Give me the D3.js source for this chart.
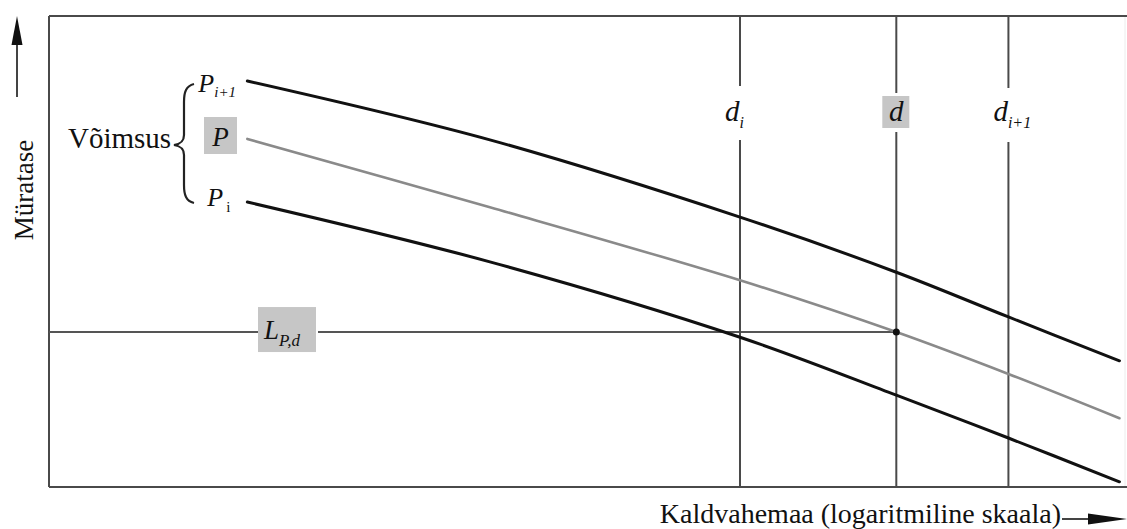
<!DOCTYPE html>
<html>
<head>
<meta charset="utf-8">
<script src="https://cdn.jsdelivr.net/npm/d3@7"></script>
<style>
  html, body { margin: 0; padding: 0; background: #fff; }
  svg { display: block; }
</style>
</head>
<body>
<svg id="chart" width="1127" height="529"></svg>
<script>
// Log-distance positions (relative units) where each level curve is sampled
const distance = [18.4, 40.9, 64.1, 78.6, 89.0, 99.3];
// Noise level (relative units) for the three power settings
const levelPiPlus1 = [86.2, 73.7, 57.3, 45.6, 36.1, 26.8];
const levelP       = [73.9, 59.4, 43.9, 32.9, 24.0, 14.6];
const levelPi      = [60.5, 47.8, 31.8, 19.5, 10.4, 1.1];

// Reference distances drawn as vertical lines
const distNames = ["d", "d", "d"];
const distSubs = ["i", "", "i+1"];
const distValues = [64.1, 78.6, 89.0];
const distHighlight = [false, true, false];

// Interpolated noise level at distance d
const levelAtD = 32.9;

const FONT = "'Liberation Serif', 'Times New Roman', 'DejaVu Serif', serif";

const svg = d3.select("#chart")
  .attr("font-family", FONT)
  .style("font-family", FONT);
const plot = { left: 49, right: 1127, top: 16, bottom: 487 };

const x = d3.scaleLinear().domain([0, 100]).range([plot.left, plot.right]);
const y = d3.scaleLinear().domain([0, 100]).range([plot.bottom, plot.top]);

const frameColor = "#4a4a4a";
const ink = "#111";

function txt(sel) {
  return sel.append("text").attr("font-family", FONT).attr("fill", ink);
}

// Frame: left, top and bottom edges (right edge barely visible)
svg.append("line").attr("x1", plot.right - 2).attr("x2", plot.right - 2)
  .attr("y1", plot.top).attr("y2", plot.bottom)
  .attr("stroke", "#ececec").attr("stroke-width", 1);
svg.append("line").attr("x1", x(0)).attr("x2", x(0))
  .attr("y1", y(100)).attr("y2", y(0))
  .attr("stroke", frameColor).attr("stroke-width", 2);
svg.append("line").attr("x1", x(0)).attr("x2", x(100))
  .attr("y1", y(100)).attr("y2", y(100))
  .attr("stroke", frameColor).attr("stroke-width", 2);
svg.append("line").attr("x1", x(0)).attr("x2", x(100))
  .attr("y1", y(0)).attr("y2", y(0))
  .attr("stroke", frameColor).attr("stroke-width", 2);

// Horizontal line at the interpolated level, with its label box
const hy = y(levelAtD);
const lBox = { x0: 258, x1: 316, y0: hy - 25, y1: hy + 20 };
svg.append("line").attr("x1", x(0)).attr("x2", lBox.x0)
  .attr("y1", hy).attr("y2", hy).attr("stroke", "#555").attr("stroke-width", 2);
svg.append("line").attr("x1", lBox.x1 + 2).attr("x2", x(distValues[1]))
  .attr("y1", hy).attr("y2", hy).attr("stroke", "#555").attr("stroke-width", 2);
svg.append("rect").attr("x", lBox.x0).attr("y", lBox.y0)
  .attr("width", lBox.x1 - lBox.x0).attr("height", lBox.y1 - lBox.y0)
  .attr("fill", "#c6c6c6");
const lt = txt(svg).attr("x", 264).attr("y", hy + 7)
  .attr("font-size", 27).attr("font-style", "italic");
lt.append("tspan").text("L");
lt.append("tspan").attr("dy", 7).attr("font-size", 17).text("P,d");

// Vertical distance lines with labels in gaps
const gaps = [[86, 140], [93, 132], [88, 142]];
distValues.forEach((dv, i) => {
  const xx = x(dv);
  svg.append("line").attr("x1", xx).attr("x2", xx)
    .attr("y1", y(100)).attr("y2", gaps[i][0])
    .attr("stroke", frameColor).attr("stroke-width", 2);
  svg.append("line").attr("x1", xx).attr("x2", xx)
    .attr("y1", gaps[i][1]).attr("y2", y(0))
    .attr("stroke", frameColor).attr("stroke-width", 2);
  if (distHighlight[i]) {
    svg.append("rect").attr("x", xx - 14).attr("y", 96)
      .attr("width", 27).attr("height", 32).attr("fill", "#c6c6c6");
  }
  const t = txt(svg).attr("y", 121).attr("font-size", 29)
    .attr("font-style", "italic");
  if (distSubs[i] === "") {
    t.attr("x", xx).attr("text-anchor", "middle").text(distNames[i]);
  } else {
    t.attr("x", xx - 15);
    t.append("tspan").text(distNames[i]);
    t.append("tspan").attr("dy", 7).attr("font-size", 16).text(distSubs[i]);
  }
});

// Level curves
const line = d3.line().x((d, i) => x(distance[i])).y(d => y(d))
  .curve(d3.curveCatmullRom.alpha(0.5));
const curves = [
  { data: levelPiPlus1, color: "#111", width: 3 },
  { data: levelP, color: "#8a8a8a", width: 2.6 },
  { data: levelPi, color: "#111", width: 3 }
];
curves.forEach(c => {
  svg.append("path").attr("d", line(c.data)).attr("fill", "none")
    .attr("stroke", c.color).attr("stroke-width", c.width)
    .attr("stroke-linecap", "round");
});

// Intersection point of the interpolated level and distance d
svg.append("circle").attr("cx", x(distValues[1])).attr("cy", hy)
  .attr("r", 3.5).attr("fill", "#111");

// Power labels at the start of each curve
const pStartX = x(distance[0]);
const p1 = txt(svg).attr("x", pStartX - 49).attr("y", y(levelPiPlus1[0]) + 11)
  .attr("font-size", 26).attr("font-style", "italic");
p1.append("tspan").text("P");
p1.append("tspan").attr("dy", 5).attr("font-size", 15).text("i+1");

svg.append("rect").attr("x", 204).attr("y", 117).attr("width", 33).attr("height", 37)
  .attr("fill", "#c6c6c6");
txt(svg).attr("x", 220.5).attr("y", 146).attr("text-anchor", "middle")
  .attr("font-size", 27).attr("font-style", "italic").text("P");

const p0 = txt(svg).attr("x", pStartX - 40).attr("y", y(levelPi[0]) + 4)
  .attr("font-size", 26).attr("font-style", "italic");
p0.append("tspan").text("P");
p0.append("tspan").attr("dy", 6).attr("dx", 3).attr("font-size", 15)
  .attr("font-style", "normal").text("i");

// Curly brace grouping the power labels
const bx = 184, by0 = 84, by1 = 203, bm = 145;
const brace = `M ${bx + 10} ${by0}
  C ${bx + 2} ${by0 + 2}, ${bx} ${by0 + 8}, ${bx} ${by0 + 18}
  L ${bx} ${bm - 10}
  C ${bx} ${bm - 3}, ${bx - 4} ${bm - 1}, ${bx - 10} ${bm}
  C ${bx - 4} ${bm + 1}, ${bx} ${bm + 3}, ${bx} ${bm + 10}
  L ${bx} ${by1 - 18}
  C ${bx} ${by1 - 8}, ${bx + 2} ${by1 - 2}, ${bx + 10} ${by1}`;
svg.append("path").attr("d", brace).attr("fill", "none")
  .attr("stroke", "#222").attr("stroke-width", 2.2);

txt(svg).attr("x", 68).attr("y", 148).attr("font-size", 29)
  .text("Võimsus");

// Y axis title and arrow
txt(svg).attr("transform", "translate(33,190) rotate(-90)")
  .attr("text-anchor", "middle").attr("font-size", 27).text("Müratase");
svg.append("line").attr("x1", 17).attr("x2", 17).attr("y1", 97).attr("y2", 40)
  .attr("stroke", "#444").attr("stroke-width", 2);
svg.append("path").attr("d", "M17,16 L22.5,45 L11.5,45 Z").attr("fill", "#111");

// X axis title and arrow
txt(svg).attr("x", 1061).attr("y", 523).attr("text-anchor", "end")
  .attr("font-size", 28).text("Kaldvahemaa (logaritmiline skaala)");
svg.append("line").attr("x1", 1062).attr("x2", 1100).attr("y1", 519).attr("y2", 519)
  .attr("stroke", "#444").attr("stroke-width", 2);
svg.append("path").attr("d", "M1127,519 L1088,513.5 L1088,524.5 Z").attr("fill", "#111");
</script>
</body>
</html>
